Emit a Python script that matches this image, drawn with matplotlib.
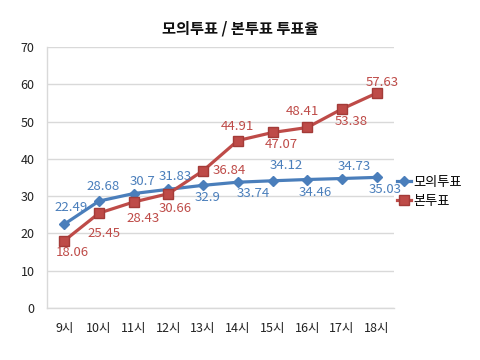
import matplotlib

matplotlib.use("Agg")
import matplotlib.pyplot as plt  # noqa: E402

plt.rcParams["font.family"] = ["Noto Sans CJK KR", "DejaVu Sans"]

hours = ["9시", "10시", "11시", "12시", "13시", "14시", "15시", "16시", "17시", "18시"]
mock_vote = [22.49, 28.68, 30.7, 31.83, 32.9, 33.74, 34.12, 34.46, 34.73, 35.03]
real_vote = [18.06, 25.45, 28.43, 30.66, 36.84, 44.91, 47.07, 48.41, 53.38, 57.63]

# label offsets in pixels (dx, dy) -- placed by hand like the original
mock_offsets = [(7, 17), (4, 15), (9, 12), (7, 13), (4, -12), (15, -11), (14, 15), (8, -13), (12, 12), (8, -12)]
real_offsets = [(8, -12), (5, -20), (9, -17), (7, -15), (26, 0), (0, 14), (9, -12), (-5, 16), (9, -13), (6, 11)]

BLUE = "#4A7EBB"
RED = "#BE4B48"
GRID = "#D9D9D9"

fig = plt.figure(figsize=(4.8, 3.6), dpi=100)
ax = fig.add_axes([47 / 480, 1 - 308 / 360, 347 / 480, 261 / 360])

x = list(range(len(hours)))
ax.plot(x, mock_vote, color=BLUE, lw=2.3, marker="D", ms=5.5, mfc=BLUE, mec=BLUE, label="모의투표", zorder=3)
ax.plot(x, real_vote, color=RED, lw=2.3, marker="s", ms=7, mfc=RED, mec="#A33B38", label="본투표", zorder=3)

for xi, v, (dx, dy) in zip(x, mock_vote, mock_offsets):
    ax.annotate(f"{v:g}", (xi, v), xytext=(dx * 0.72, dy * 0.72), textcoords="offset points",
                ha="center", va="center", color=BLUE, fontsize=9.5, zorder=4)
for xi, v, (dx, dy) in zip(x, real_vote, real_offsets):
    ax.annotate(f"{v:g}", (xi, v), xytext=(dx * 0.72, dy * 0.72), textcoords="offset points",
                ha="center", va="center", color=RED, fontsize=9.5, zorder=4)

ax.set_xlim(-0.5, len(hours) - 0.5)
ax.set_ylim(0, 70)
ax.set_yticks(range(0, 71, 10))
ax.set_xticks(x)
ax.set_xticklabels(hours)
ax.tick_params(axis="both", length=0, labelsize=9, colors="#222222")
ax.tick_params(axis="y", pad=9)
ax.tick_params(axis="x", pad=10)
ax.grid(axis="y", color=GRID, lw=1)
ax.set_axisbelow(True)
for side in ["top", "right"]:
    ax.spines[side].set_visible(False)
for side in ["left", "bottom"]:
    ax.spines[side].set_color(GRID)
    ax.spines[side].set_linewidth(1)

fig.text(0.5, 1 - 28 / 360, "모의투표 / 본투표 투표율", ha="center", va="center",
         fontsize=11, fontweight="bold", color="#111111")

fig.legend(loc="center left", bbox_to_anchor=(390 / 480, 1 - 192 / 360), frameon=False,
           fontsize=9.5, handlelength=1.1, handletextpad=0.2, labelspacing=0.45, borderpad=0)

fig.savefig("out.png", dpi=100)
